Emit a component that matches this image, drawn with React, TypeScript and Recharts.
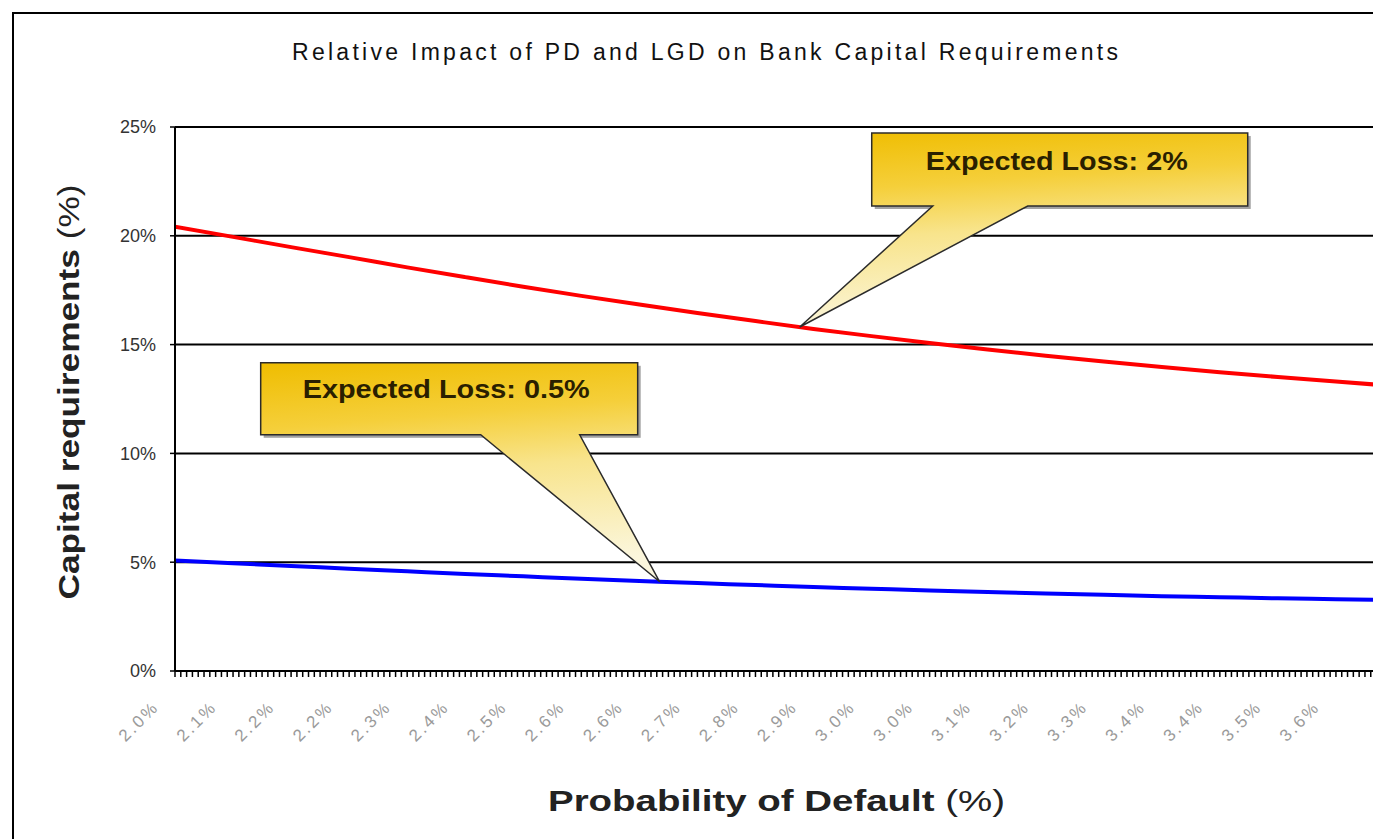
import React from 'react';
import { LineChart, Line, XAxis, YAxis, CartesianGrid, ReferenceDot } from 'recharts';

// probability of default (%) at each labelled tick
const pdValues = [2.0, 2.08, 2.16, 2.24, 2.32, 2.4, 2.48, 2.56, 2.64, 2.72, 2.8, 2.88, 2.96, 3.04, 3.12, 3.2, 3.28, 3.36, 3.44, 3.52, 3.6, 3.68];
// capital requirement (%) - expected loss 2%
const capitalEL2 = [20.42, 19.95, 19.48, 19.02, 18.55, 18.1, 17.66, 17.24, 16.84, 16.45, 16.08, 15.72, 15.39, 15.07, 14.77, 14.49, 14.22, 13.97, 13.73, 13.51, 13.3, 13.1];
// capital requirement (%) - expected loss 0.5%
const capitalEL05 = [5.08, 4.95, 4.83, 4.7, 4.58, 4.46, 4.35, 4.24, 4.14, 4.04, 3.95, 3.86, 3.78, 3.7, 3.63, 3.56, 3.5, 3.44, 3.39, 3.34, 3.3, 3.26];
const pdTickLabels = ['2.0%', '2.1%', '2.2%', '2.2%', '2.3%', '2.4%', '2.5%', '2.6%', '2.6%', '2.7%', '2.8%', '2.9%', '3.0%', '3.0%', '3.1%', '3.2%', '3.3%', '3.4%', '3.4%', '3.5%', '3.6%'];
const yTicks = [0, 5, 10, 15, 20, 25];

// callout anchors (pd, capital)
const calloutEL2 = { pd: 2.861, value: 15.81, text: 'Expected Loss: 2%' };
const calloutEL05 = { pd: 2.668, value: 4.1, text: 'Expected Loss: 0.5%' };

const data = pdValues.map((pd, i) => ({ pd, el2: capitalEL2[i], el05: capitalEL05[i] }));

// small ticks every 0.008%, a label on every tenth
const minorTicks = Array.from({ length: 216 }, (_, i) => Math.round((2 + i * 0.008) * 1000) / 1000);

const PdTick = (props: any) => {
  const { x, y, payload } = props;
  const step = Math.round((payload.value - 2) / 0.008);
  if (step % 10 !== 0) return <g />;
  const label = pdTickLabels[step / 10];
  if (!label) return <g />;
  const ax = x - 15;
  const ay = y + 29;
  return (
    <text
      x={ax}
      y={ay}
      transform={`rotate(-45, ${ax}, ${ay})`}
      textAnchor="end"
      fontSize={17}
      letterSpacing={2.5}
      fill="#9a9a9a"
    >
      {label}
    </text>
  );
};

interface CalloutProps {
  cx?: number;
  cy?: number;
  id: string;
  box: [number, number, number, number];
  wedge: [number, number];
  text: string;
  textX: number;
  textY: number;
  textWidth: number;
}

const Callout = ({ cx = 0, cy = 0, id, box, wedge, text, textX, textY, textWidth }: CalloutProps) => {
  const [bx1, by1, bx2, by2] = box;
  const pts = [
    [bx1, by1],
    [bx2, by1],
    [bx2, by2],
    [wedge[1], by2],
    [0, 0],
    [wedge[0], by2],
    [bx1, by2],
  ]
    .map(([px, py]) => `${cx + px},${cy + py}`)
    .join(' ');
  return (
    <g>
      <defs>
        <linearGradient id={id} x1="0" y1="0" x2="0.15" y2="1">
          <stop offset="0" stopColor="#efbd00" />
          <stop offset="0.3" stopColor="#f5cf3a" />
          <stop offset="0.55" stopColor="#f8e48c" />
          <stop offset="1" stopColor="#fbf6dc" />
        </linearGradient>
      </defs>
      <rect x={cx + bx1 + 3} y={cy + by1 + 3} width={bx2 - bx1} height={by2 - by1} fill="#555" opacity={0.55} />
      <polygon points={pts} fill={`url(#${id})`} stroke="#2b2b2b" strokeWidth={1.5} />
      <text
        x={cx + textX}
        y={cy + textY}
        fontSize={25}
        fontWeight="bold"
        fill="#2a1f00"
        textLength={textWidth}
        lengthAdjust="spacingAndGlyphs"
        fontFamily="'Liberation Sans', Arial, sans-serif"
      >
        {text}
      </text>
    </g>
  );
};

export default function App() {
  return (
    <div style={{ position: 'relative', width: 1373, height: 831, overflow: 'hidden', background: '#fff' }}>
      <div
        style={{
          position: 'absolute',
          left: 4,
          top: 4,
          width: 1500,
          height: 900,
          border: '2px solid #000',
          boxSizing: 'border-box',
        }}
      />
      <div style={{ position: 'absolute', left: 0, top: 0 }}>
        <LineChart
          width={1430}
          height={831}
          data={data}
          margin={{ top: 119, right: 15, left: 0, bottom: 0 }}
          style={{ fontFamily: "'Liberation Sans', Arial, sans-serif" }}
        >
          <CartesianGrid vertical={false} stroke="#000" strokeWidth={2} />
          <XAxis
            dataKey="pd"
            type="number"
            domain={[2, 3.72]}
            allowDataOverflow
            ticks={minorTicks}
            interval={0}
            height={168}
            tickSize={6}
            tick={<PdTick />}
            tickLine={{ stroke: '#000', strokeWidth: 1.5 }}
            axisLine={{ stroke: '#000', strokeWidth: 2 }}
          />
          <YAxis
            type="number"
            domain={[0, 25]}
            ticks={yTicks}
            interval={0}
            width={167}
            tickSize={5}
            tickMargin={14}
            tickFormatter={(v: number) => `${v}%`}
            tick={{ fontSize: 18, fill: '#333' }}
            tickLine={{ stroke: '#000', strokeWidth: 1.5 }}
            axisLine={{ stroke: '#000', strokeWidth: 2 }}
          />
          <Line type="monotone" dataKey="el2" stroke="#ff0000" strokeWidth={4} dot={false} isAnimationActive={false} />
          <Line type="monotone" dataKey="el05" stroke="#0000ff" strokeWidth={4} dot={false} isAnimationActive={false} />
          <ReferenceDot
            x={calloutEL2.pd}
            y={calloutEL2.value}
            r={0}
            ifOverflow="visible"
            shape={(p: any) => (
              <Callout
                cx={p.cx}
                cy={p.cy}
                id="callout-el2"
                box={[72, -194, 448, -121]}
                wedge={[133, 228]}
                text={calloutEL2.text}
                textX={126}
                textY={-157}
                textWidth={262}
              />
            )}
          />
          <ReferenceDot
            x={calloutEL05.pd}
            y={calloutEL05.value}
            r={0}
            ifOverflow="visible"
            shape={(p: any) => (
              <Callout
                cx={p.cx}
                cy={p.cy}
                id="callout-el05"
                box={[-399, -219, -22, -147]}
                wedge={[-179, -80]}
                text={calloutEL05.text}
                textX={-357}
                textY={-184}
                textWidth={287}
              />
            )}
          />
        </LineChart>
      </div>
      <svg
        width={1373}
        height={831}
        style={{ position: 'absolute', left: 0, top: 0, pointerEvents: 'none', fontFamily: "'Liberation Sans', Arial, sans-serif" }}
      >
        <text x={284} y={52} fontSize={23} fill="#111" textLength={826} lengthAdjust="spacing">
          Relative Impact of PD and LGD on Bank Capital Requirements
        </text>
        <text
          transform="translate(71, 384) rotate(-90)"
          textAnchor="middle"
          fontSize={29}
          fontWeight="bold"
          fill="#222"
          textLength={415}
          lengthAdjust="spacingAndGlyphs"
        >
          Capital requirements <tspan fontWeight="normal">(%)</tspan>
        </text>
        <text
          x={540}
          y={803}
          fontSize={30}
          fontWeight="bold"
          fill="#222"
          textLength={457}
          lengthAdjust="spacingAndGlyphs"
        >
          Probability of Default <tspan fontWeight="normal">(%)</tspan>
        </text>
      </svg>
    </div>
  );
}
